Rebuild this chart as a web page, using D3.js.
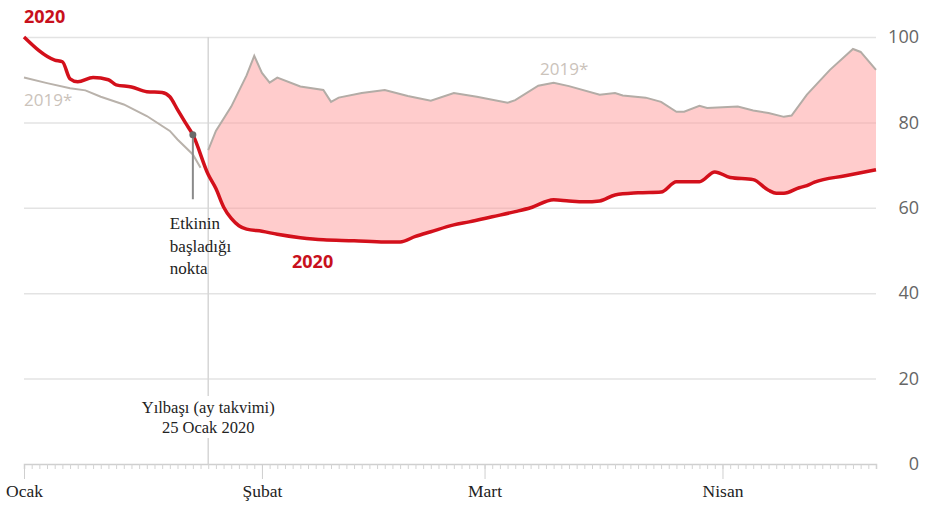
<!DOCTYPE html>
<html>
<head>
<meta charset="utf-8">
<script src="https://cdn.jsdelivr.net/npm/d3@7"></script>
<style>
  html, body { margin: 0; padding: 0; background: #fff; }
  svg { display: block; }
</style>
</head>
<body>
<svg id="chart" width="925" height="505"></svg>
<script>
// ---------- DATA ----------
const dates2020 = ["2020-01-01","2020-01-05","2020-01-06","2020-01-07","2020-01-08","2020-01-10","2020-01-12","2020-01-13","2020-01-15","2020-01-17","2020-01-19","2020-01-20","2020-01-21","2020-01-22","2020-01-23","2020-01-25","2020-01-26","2020-01-27","2020-01-28","2020-01-29","2020-01-30","2020-02-01","2020-02-03","2020-02-06","2020-02-09","2020-02-13","2020-02-17","2020-02-19","2020-02-21","2020-02-23","2020-02-26","2020-02-28","2020-03-02","2020-03-05","2020-03-07","2020-03-10","2020-03-12","2020-03-14","2020-03-16","2020-03-18","2020-03-21","2020-03-24","2020-03-26","2020-03-29","2020-03-31","2020-04-02","2020-04-05","2020-04-07","2020-04-08","2020-04-09","2020-04-11","2020-04-12","2020-04-13","2020-04-17","2020-04-21"];
const values2020 = [100,94.6,94.2,90.2,89.5,90.5,90,88.8,88.3,87.2,87,86,83,80,77.1,67.8,64.5,60.2,57.5,55.8,55,54.5,53.8,53,52.5,52.3,52,52,53.3,54.4,56,56.7,57.9,59.1,60,61.9,61.6,61.4,61.6,63,63.5,63.7,66.1,66.1,68.4,67.1,66.6,64.1,63.4,63.4,64.7,65.2,66,67.5,68.9];

// 2019 before the (shifted) new year
const dates2019a = ["2020-01-01","2020-01-04","2020-01-07","2020-01-09","2020-01-11","2020-01-14","2020-01-17","2020-01-20","2020-01-21","2020-01-23","2020-01-24"];
const values2019a = [90.5,89.2,88,87.5,86,84.2,81.5,78,76,72.5,69.4];

// 2019* aligned to the lunar new year
const dates2019b = ["2020-01-25","2020-01-26","2020-01-28","2020-01-30","2020-01-31","2020-02-01","2020-02-02","2020-02-03","2020-02-06","2020-02-09","2020-02-10","2020-02-11","2020-02-14","2020-02-17","2020-02-20","2020-02-23","2020-02-26","2020-02-29","2020-03-04","2020-03-05","2020-03-08","2020-03-10","2020-03-12","2020-03-16","2020-03-18","2020-03-19","2020-03-22","2020-03-24","2020-03-26","2020-03-27","2020-03-29","2020-03-30","2020-04-03","2020-04-05","2020-04-07","2020-04-09","2020-04-10","2020-04-12","2020-04-15","2020-04-18","2020-04-19","2020-04-21"];
const values2019b = [73.5,78,83.7,91,95.6,91.6,89.3,90.5,88.4,87.6,84.8,85.8,86.9,87.6,86.2,85.1,86.9,86,84.6,85.2,88.6,89.3,88.5,86.5,86.9,86.3,85.8,84.8,82.5,82.5,83.9,83.4,83.7,82.8,82.2,81.3,81.6,86.5,92.3,97.2,96.5,92.3];

const monthDates = ["2020-01-01","2020-02-01","2020-03-01","2020-04-01"];
const monthLabels = ["Ocak","Şubat","Mart","Nisan"];
const yTicks = [0,20,40,60,80,100];
const eventDate = "2020-01-23";      // "Etkinin başladığı nokta"
const newYearDate = "2020-01-25";    // Yılbaşı (ay takvimi)

// ---------- SETUP ----------
const parse = d3.utcParse("%Y-%m-%d");
const svg = d3.select("#chart");
const x = d3.scaleUtc().domain([parse("2020-01-01"), parse("2020-04-21")]).range([24, 876]);
const y = d3.scaleLinear().domain([0, 100]).range([464, 37]);

const s2020 = dates2020.map((d, i) => ({ date: parse(d), v: values2020[i] }));
const s2019a = dates2019a.map((d, i) => ({ date: parse(d), v: values2019a[i] }));
const s2019b = dates2019b.map((d, i) => ({ date: parse(d), v: values2019b[i] }));

const line = d3.line().x(d => x(d.date)).y(d => y(d.v));
const smooth = d3.line().x(d => x(d.date)).y(d => y(d.v)).curve(d3.curveMonotoneX);

// ---------- GRID + Y AXIS ----------
const yAxis = d3.axisRight(y).tickValues(yTicks).tickSize(-(876 - 24)).tickFormat(d3.format("d"));
const yg = svg.append("g").attr("transform", "translate(876,0)").call(yAxis);
yg.select(".domain").remove();
yg.selectAll(".tick line").attr("stroke", "#e3e3e3").attr("stroke-width", 1.5)
  .filter(d => d === 0).remove();
yg.selectAll(".tick text")
  .attr("x", 43).attr("text-anchor", "end")
  .attr("font-family", "'Open Sans', sans-serif").attr("font-size", 18).attr("fill", "#666");

// vertical line for lunar new year
const nyX = x(parse(newYearDate));
svg.append("line").attr("x1", nyX).attr("x2", nyX).attr("y1", y(100)).attr("y2", y(0))
  .attr("stroke", "#d6d6d6").attr("stroke-width", 1.5);

// ---------- X AXIS ----------
const dayAxis = d3.axisBottom(x).ticks(d3.utcDay.every(1)).tickSize(5).tickFormat("");
const dg = svg.append("g").attr("transform", "translate(0,464)").call(dayAxis);
dg.select(".domain").attr("stroke", "#cfcfcf").attr("stroke-width", 1.5);
dg.selectAll(".tick line").attr("stroke", "#d3d3d3");

const monthAxis = d3.axisBottom(x).tickValues(monthDates.map(parse)).tickSize(15).tickPadding(6)
  .tickFormat((d, i) => monthLabels[i]);
const mg = svg.append("g").attr("transform", "translate(0,464)").call(monthAxis);
mg.select(".domain").remove();
mg.selectAll(".tick line").attr("stroke", "#cfcfcf");
mg.selectAll(".tick text").attr("font-family", "'Liberation Serif', serif").attr("font-size", 17.5).attr("fill", "#222");

// ---------- FILL BETWEEN 2019* AND 2020 ----------
const s2020after = s2020.filter(d => d.date >= parse(newYearDate));
const poly = s2019b.concat(s2020after.slice().reverse());
svg.append("path").attr("d", line(poly) + "Z").attr("fill", "#ff9a9a").attr("fill-opacity", 0.5).attr("stroke", "none");

// ---------- LINES ----------
svg.append("path").attr("d", line(s2019a)).attr("fill", "none").attr("stroke", "#b9b2ab").attr("stroke-width", 2);
svg.append("path").attr("d", line(s2019b)).attr("fill", "none").attr("stroke", "#b3aca6").attr("stroke-width", 2);
svg.append("path").attr("d", smooth(s2020)).attr("fill", "none").attr("stroke", "#d3101b").attr("stroke-width", 3.5).attr("stroke-linejoin", "round");

// ---------- ANNOTATIONS ----------
const ev = s2020.find(d => +d.date === +parse(eventDate));
const evX = x(ev.date), evY = y(ev.v);
svg.append("line").attr("x1", evX).attr("x2", evX).attr("y1", evY).attr("y2", y(62))
  .attr("stroke", "#8a8a8a").attr("stroke-width", 2);
svg.append("circle").attr("cx", evX).attr("cy", evY).attr("r", 3.5).attr("fill", "#6a6a6a");

const evLines = ["Etkinin", "başladığı", "nokta"];
svg.append("rect").attr("x", evX - 28).attr("y", 212).attr("width", 42).attr("height", 68).attr("fill", "#fff");
const evText = svg.append("text").attr("font-family", "'Liberation Serif', serif").attr("font-size", 17).attr("fill", "#222");
evLines.forEach((t, i) => evText.append("tspan").attr("x", evX - 23).attr("y", 229 + i * 22.5).text(t));

svg.append("rect").attr("x", nyX - 8).attr("y", 396).attr("width", 16).attr("height", 42).attr("fill", "#fff");
const nyText = svg.append("text").attr("font-family", "'Liberation Serif', serif").attr("font-size", 16.5)
  .attr("fill", "#222").attr("text-anchor", "middle");
["Yılbaşı (ay takvimi)", "25 Ocak 2020"].forEach((t, i) => nyText.append("tspan").attr("x", nyX).attr("y", 413 + i * 20).text(t));

// ---------- SERIES LABELS ----------
svg.append("text").attr("x", 24).attr("y", 23).text("2020")
  .attr("font-family", "'Open Sans', sans-serif").attr("font-weight", 700).attr("font-size", 18).attr("fill", "#c8101c");
svg.append("text").attr("x", 292).attr("y", 268).text("2020")
  .attr("font-family", "'Open Sans', sans-serif").attr("font-weight", 700).attr("font-size", 18).attr("fill", "#c8101c");
svg.append("text").attr("x", 24).attr("y", 106).text("2019*")
  .attr("font-family", "'Open Sans', sans-serif").attr("font-size", 17).attr("fill", "#cbc3bb");
svg.append("text").attr("x", 540).attr("y", 75).text("2019*")
  .attr("font-family", "'Open Sans', sans-serif").attr("font-size", 17).attr("fill", "#cbc3bb");
</script>
</body>
</html>
